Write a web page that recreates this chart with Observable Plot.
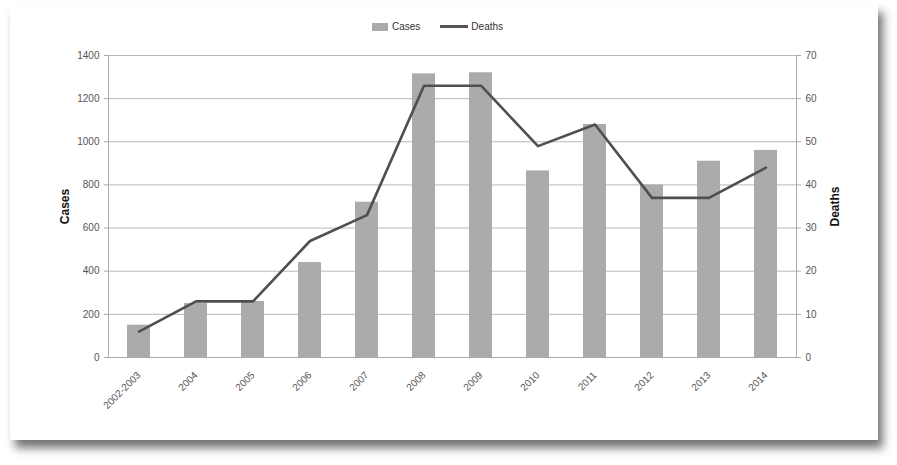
<!DOCTYPE html>
<html><head><meta charset="utf-8">
<script src="https://cdn.jsdelivr.net/npm/d3@7"></script>
<script src="https://cdn.jsdelivr.net/npm/@observablehq/plot@0.6"></script>
<style>
body{margin:0;background:#fff;width:897px;height:465px;overflow:hidden;font-family:"Liberation Sans",Arial,sans-serif;position:relative;}
#paper{position:absolute;left:10px;top:4px;width:868px;height:436px;background:#fff;box-shadow:5px 8px 9px rgba(0,0,0,0.55);}
#chart{position:absolute;left:0;top:0;}
#legend{position:absolute;top:21px;left:372px;font-size:10px;color:#333;display:flex;align-items:center;white-space:nowrap;}
#legend .sw{display:inline-block;width:16px;height:8px;background:#ababab;margin-right:4px;}
#legend .ln{display:inline-block;width:28px;height:3px;background:#555;margin:0 3px 0 20px;}
</style></head><body>
<div id="paper"></div>
<div id="chart"></div>
<div id="legend"><span class="sw"></span>Cases<span class="ln"></span>Deaths</div>
<script>
const years = ["2002-2003","2004","2005","2006","2007","2008","2009","2010","2011","2012","2013","2014"];
const cases = [150, 250, 260, 440, 720, 1315, 1320, 865, 1080, 800, 910, 960];
const deaths = [6, 13, 13, 27, 33, 63, 63, 49, 54, 37, 37, 44];
const casesTicks = [0, 200, 400, 600, 800, 1000, 1200, 1400];
const deathsTicks = [0, 10, 20, 30, 40, 50, 60, 70];
const ratio = 1400 / 70;

const data = years.map((y, i) => ({year: y, cases: cases[i], deaths: deaths[i]}));

const chart = Plot.plot({
  width: 897,
  height: 465,
  marginLeft: 108,
  marginRight: 101,
  marginTop: 55,
  marginBottom: 108,
  style: {fontFamily: "Liberation Sans, Arial, sans-serif", background: "transparent"},
  x: {domain: years, paddingInner: 0.6, paddingOuter: 0.3},
  y: {domain: [0, 1400]},
  marks: [
    Plot.ruleY(casesTicks, {stroke: "#b8b8b8", strokeWidth: 1}),
    Plot.barY(data, {x: "year", y: "cases", fill: "#ababab"}),
    Plot.line(data, {x: "year", y: d => d.deaths * ratio, stroke: "#4f4f4f", strokeWidth: 2.6, curve: "linear"}),
    Plot.axisY(casesTicks, {anchor: "left", tickFormat: d3.format("d"), tickSize: 4, stroke: "#aaa", fontSize: 10, color: "#555", label: null, tickPadding: 5}),
    Plot.axisY(deathsTicks.map(d => d * ratio), {anchor: "right", tickFormat: d => d / ratio, tickSize: 4, stroke: "#aaa", fontSize: 10, color: "#555", label: null, tickPadding: 5}),
    Plot.axisX({tickRotate: -45, tickSize: 0, fontSize: 10, color: "#555", label: null, tickPadding: 16}),
    Plot.frame({anchor: "left", stroke: "#aaa"}),
    Plot.frame({anchor: "right", stroke: "#aaa"}),
    Plot.frame({anchor: "bottom", stroke: "#aaa"}),
    Plot.text(["Cases"], {frameAnchor: "left", dx: -43, rotate: -90, textAnchor: "middle", fontWeight: "bold", fontSize: 12, fill: "#111"}),
    Plot.text(["Deaths"], {frameAnchor: "right", dx: 39, rotate: -90, textAnchor: "middle", fontWeight: "bold", fontSize: 12, fill: "#111"})
  ]
});
document.getElementById("chart").appendChild(chart);
</script>
</body></html>
